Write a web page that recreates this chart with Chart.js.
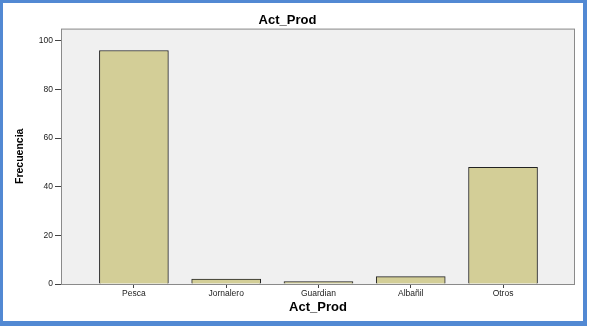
<!DOCTYPE html>
<html>
<head>
<meta charset="utf-8">
<script src="https://cdn.jsdelivr.net/npm/chart.js@4"></script>
<style>
  html, body { margin: 0; padding: 0; background: #fff; }
  #wrap { position: relative; width: 591px; height: 326px; }
  #frame {
    position: absolute; left: 0; top: 0; width: 580px; height: 318px;
    border-style: solid; border-color: #5289d3;
    border-width: 3px 4px 5px 3px; pointer-events: none;
  }
</style>
</head>
<body>
<div id="wrap">
  <canvas id="chart" width="591" height="326"></canvas>
  <div id="frame"></div>
</div>
<script>
// ========================================
// DATA
// ========================================
const categories = ["Pesca", "Jornalero", "Guardian", "Albañil", "Otros"];
const frequencies = [96, 2, 1, 3, 48];
const yTicks = [0, 20, 40, 60, 80, 100];

const tickFont = { family: "'Liberation Sans', Arial, sans-serif", size: 8.5 };
const titleFont = { family: "'Liberation Sans', Arial, sans-serif", size: 13, weight: "bold" };

// ========================================
// PLOT BACKGROUND + FRAME
// ========================================
const plotFrame = {
  id: "plotFrame",
  beforeDatasetsDraw(chart) {
    const { ctx, chartArea: a } = chart;
    ctx.save();
    ctx.fillStyle = "#f0f0f0";
    ctx.fillRect(a.left, a.top, a.right - a.left, a.bottom - a.top);
    ctx.restore();
  },
  afterDraw(chart) {
    const { ctx, chartArea: a } = chart;
    ctx.save();
    ctx.strokeStyle = "#8a8a8a";
    ctx.lineWidth = 1;
    ctx.strokeRect(a.left + 0.5, a.top + 0.5, a.right - a.left - 1, a.bottom - a.top);
    ctx.restore();
  },
};

new Chart(document.getElementById("chart"), {
  type: "bar",
  data: {
    datasets: [
      {
        data: categories.map((c, i) => ({ x: i, y: frequencies[i] })),
        backgroundColor: "#d3ce97",
        borderColor: "#222",
        borderWidth: 1,
        borderSkipped: "bottom",
        barThickness: 69,
      },
    ],
  },
  options: {
    responsive: false,
    animation: false,
    layout: { padding: { top: 0, left: 0, right: 16, bottom: 0 } },
    plugins: {
      legend: { display: false },
      tooltip: { enabled: false },
      title: {
        display: true,
        text: "Act_Prod",
        color: "#000",
        font: titleFont,
        padding: { top: 13, bottom: 0 },
      },
    },
    scales: {
      x: {
        type: "linear",
        offset: false,
        min: -0.79,
        max: 4.78,
        afterBuildTicks: (scale) => {
          scale.ticks = categories.map((c, i) => ({ value: i }));
        },
        afterFit: (scale) => { scale.height = 42; },
        grid: { offset: false, drawOnChartArea: false, drawTicks: true, tickLength: 4, color: "#444" },
        border: { display: false },
        ticks: {
          autoSkip: false,
          maxRotation: 0,
          padding: 1,
          color: "#222",
          font: tickFont,
          callback: (value) => categories[value] ?? "",
        },
        title: {
          display: true,
          text: "Act_Prod",
          color: "#000",
          font: titleFont,
          padding: { top: 0, bottom: 11 },
        },
      },
      y: {
        min: 0,
        max: 105,
        afterBuildTicks: (scale) => {
          scale.ticks = yTicks.map((v) => ({ value: v }));
        },
        afterFit: (scale) => { scale.width = 61; },
        grid: { drawOnChartArea: false, drawTicks: true, tickLength: 6, color: "#444" },
        border: { display: false },
        ticks: { padding: 2, color: "#222", font: tickFont },
        title: {
          display: true,
          text: "Frecuencia",
          color: "#000",
          font: { family: "'Liberation Sans Narrow', 'Liberation Sans', Arial, sans-serif", size: 10.5, weight: "bold" },
          padding: { top: 14, bottom: 0 },
        },
      },
    },
  },
  plugins: [plotFrame],
});
</script>
</body>
</html>
